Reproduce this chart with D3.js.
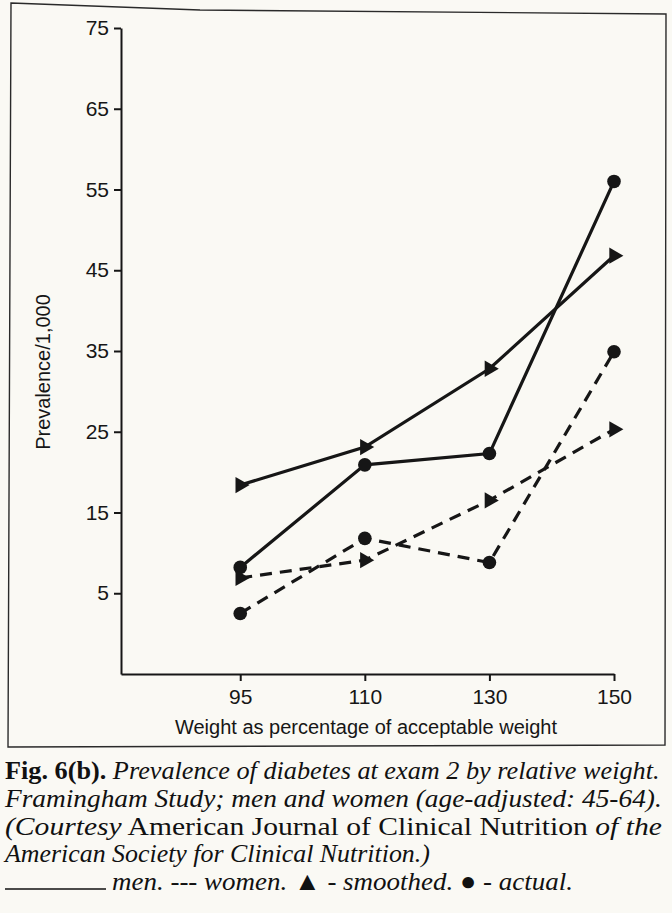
<!DOCTYPE html>
<html>
<head>
<meta charset="utf-8">
<script src="https://cdn.jsdelivr.net/npm/d3@7"></script>
<style>
  html, body { margin: 0; padding: 0; background: #faf9f4; }
  svg { display: block; }
</style>
</head>
<body>
<svg id="chart" width="672" height="913"></svg>
<script>
// ---- data ----
const categories = ["95", "110", "130", "150"];
const menSmoothed = [18.4, 23.1, 32.8, 46.8];
const menActual = [8.2, 20.9, 22.3, 56.0];
const womenSmoothed = [6.9, 9.1, 16.5, 25.3];
const womenActual = [2.5, 11.8, 8.8, 34.9];
const yTicks = [5, 15, 25, 35, 45, 55, 65, 75];
const xTitle = "Weight as percentage of acceptable weight";
const yTitle = "Prevalence/1,000";

const ink = "#161616";
const svg = d3.select("#chart");

svg.append("rect").attr("width", 672).attr("height", 913).attr("fill", "#faf9f4");

// figure frame
svg.append("path")
  .attr("d", "M11,3 L200,10 L666,14 L665,745 L8,747 Z")
  .attr("fill", "none").attr("stroke", "#2a2a2a").attr("stroke-width", 1.4);

const x = d3.scalePoint().domain(categories).range([121, 614]).padding(0.4785).align(1);
const y = d3.scaleLinear().domain([-5, 75]).range([674, 28]);

const axisFont = "'Liberation Sans', Arial, Helvetica, sans-serif";

// y axis
const gy = svg.append("g").attr("transform", "translate(121,0)")
  .call(d3.axisLeft(y).tickValues(yTicks).tickSize(7).tickSizeOuter(0).tickPadding(5));
gy.select(".domain").attr("stroke", ink).attr("stroke-width", 2);
gy.selectAll(".tick line").attr("stroke", ink).attr("stroke-width", 2);
gy.selectAll(".tick text").attr("fill", ink).style("font-family", axisFont).style("font-size", "21px");

// x axis
const gx = svg.append("g").attr("transform", "translate(0,674)")
  .call(d3.axisBottom(x).tickSize(7).tickSizeOuter(0).tickPadding(8));
gx.select(".domain").attr("stroke", ink).attr("stroke-width", 2);
gx.selectAll(".tick line").attr("stroke", ink).attr("stroke-width", 2);
gx.selectAll(".tick text").attr("fill", ink).style("font-family", axisFont).style("font-size", "21px");

// axis titles
svg.append("text").attr("x", 366).attr("y", 734).attr("text-anchor", "middle")
  .attr("fill", ink).style("font-family", axisFont).style("font-size", "20px").text(xTitle);
svg.append("text").attr("transform", "translate(50,372) rotate(-90)").attr("text-anchor", "middle")
  .attr("fill", ink).style("font-family", axisFont).style("font-size", "20px").text(yTitle);

// series
const series = [
  { values: menSmoothed, dash: null, marker: "tri" },
  { values: menActual, dash: null, marker: "dot" },
  { values: womenSmoothed, dash: "12,8", marker: "tri" },
  { values: womenActual, dash: "12,8", marker: "dot" }
];
const line = d3.line().x((d, i) => x(categories[i])).y(d => y(d));
const tri = d3.symbol().type(d3.symbolTriangle).size(115);

series.forEach(s => {
  svg.append("path").datum(s.values).attr("d", line)
    .attr("fill", "none").attr("stroke", ink).attr("stroke-width", 3.2)
    .attr("stroke-dasharray", s.dash);
  const g = svg.append("g");
  if (s.marker === "dot") {
    g.selectAll("circle").data(s.values).join("circle")
      .attr("cx", (d, i) => x(categories[i])).attr("cy", d => y(d)).attr("r", 6.8)
      .attr("fill", ink);
  } else {
    g.selectAll("path").data(s.values).join("path")
      .attr("d", tri)
      .attr("transform", (d, i) => `translate(${x(categories[i])},${y(d)}) rotate(90)`)
      .attr("fill", ink);
  }
});

// caption
const serif = "'Liberation Serif', 'Times New Roman', serif";
const capLines = [
  { y: 779, x0: 5, x1: 660, parts: [["Fig. 6(b).", "normal", "bold"], [" Prevalence of diabetes at exam 2 by relative weight.", "italic", "normal"]] },
  { y: 807, x0: 5, x1: 662, parts: [["Framingham Study; men and women (age-adjusted: 45-64).", "italic", "normal"]] },
  { y: 835, x0: 5, x1: 662, parts: [["(Courtesy", "italic", "normal"], [" American Journal of Clinical Nutrition ", "normal", "normal"], ["of the", "italic", "normal"]] },
  { y: 862, x0: 5, x1: 430, parts: [["American Society for Clinical Nutrition.)", "italic", "normal"]] },
  { y: 890, x0: 112, x1: 573, parts: [["men. --- women. ", "italic", "normal"], ["▲", "normal", "normal"], [" - smoothed. ", "italic", "normal"], ["●", "normal", "normal"], [" - actual.", "italic", "normal"]] }
];
capLines.forEach(l => {
  const g = svg.append("g");
  const t = g.append("text").attr("x", 0).attr("y", 0).attr("fill", "#111")
    .style("font-family", serif).style("font-size", "26px");
  l.parts.forEach(p => {
    t.append("tspan").text(p[0]).style("font-style", p[1]).style("font-weight", p[2]);
  });
  const w = t.node().getComputedTextLength();
  g.attr("transform", `translate(${l.x0},${l.y}) scale(${(l.x1 - l.x0) / w},1)`);
});
// legend rule for men
svg.append("line").attr("x1", 5).attr("x2", 106).attr("y1", 889).attr("y2", 889)
  .attr("stroke", "#111").attr("stroke-width", 1.5);
</script>
</body>
</html>
